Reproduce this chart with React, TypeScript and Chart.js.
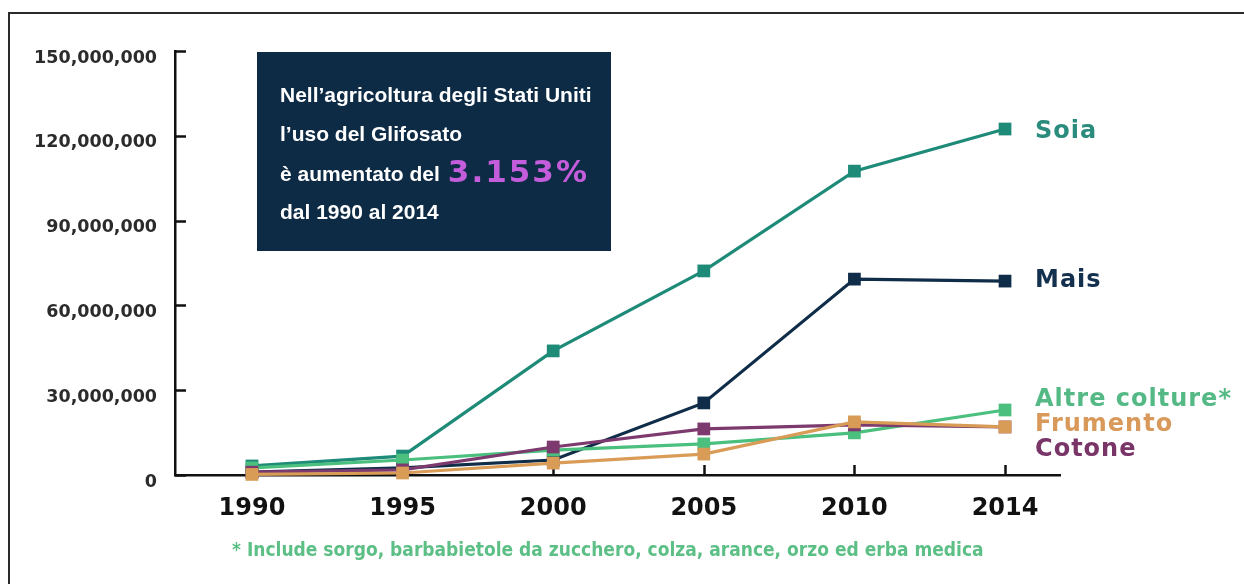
import React, { useEffect, useRef } from "react";
import { Chart, registerables } from "chart.js";

Chart.register(...registerables);

const years = ["1990", "1995", "2000", "2005", "2010", "2014"];
const seriesNames = ["Frumento", "Cotone", "Altre colture*", "Mais", "Soia"];
const frumento = [0.2e6, 0.7e6, 4.2e6, 7.4e6, 18.8e6, 17.0e6];
const cotone = [1.0e6, 1.8e6, 9.9e6, 16.3e6, 17.7e6, 17.0e6];
const altre = [2.5e6, 5.3e6, 8.8e6, 11.0e6, 14.9e6, 23.0e6];
const mais = [1.0e6, 2.5e6, 5.3e6, 25.5e6, 69.3e6, 68.6e6];
const soia = [3.2e6, 6.7e6, 43.9e6, 72.2e6, 107.5e6, 122.4e6];
const yTicks = [0, 30e6, 60e6, 90e6, 120e6, 150e6];
// label anchor values (data units) for the end-of-line names
const labelValues = [17.6e6, 8.8e6, 26.5e6, 68.6e6, 121.5e6];

const lineColors = ["#d99c57", "#7d3a6e", "#4bbf7d", "#0f2c48", "#1e8a78"];
const labelColors = ["#d8995a", "#793468", "#55b986", "#13304f", "#2a8c7c"];

const boxLines = [
  "Nell\u2019agricoltura degli Stati Uniti",
  "l\u2019uso del Glifosato",
  "\u00e8 aumentato del",
  "dal 1990 al 2014",
];
const highlight = "3.153%";
const footnote =
  "* Include sorgo, barbabietole da zucchero, colza, arance, orzo ed erba medica";

const decorPlugin = {
  id: "decor",
  beforeDraw(chart: any) {
    const ctx = chart.ctx;
    ctx.save();
    ctx.fillStyle = "#ffffff";
    ctx.fillRect(0, 0, chart.width, chart.height);
    ctx.strokeStyle = "#2a2a2a";
    ctx.lineWidth = 2;
    ctx.strokeRect(9, 13, chart.width + 20, chart.height + 20);
    ctx.restore();
  },
  beforeDatasetsDraw(chart: any) {
    const ctx = chart.ctx;
    const xs = chart.scales.x;
    const ys = chart.scales.y;
    const area = chart.chartArea;
    ctx.save();
    ctx.strokeStyle = "#111111";
    ctx.lineWidth = 2.5;
    yTicks.forEach((v) => {
      const y = Math.round(ys.getPixelForValue(v)) + 0.5;
      ctx.beginPath();
      ctx.moveTo(area.left, y);
      ctx.lineTo(area.left + 11, y);
      ctx.stroke();
    });
    years.forEach((_, i) => {
      const x = Math.round(xs.getPixelForValue(i)) + 0.5;
      ctx.beginPath();
      ctx.moveTo(x, area.bottom);
      ctx.lineTo(x, area.bottom - 10);
      ctx.stroke();
    });
    ctx.restore();
  },
  afterDraw(chart: any) {
    const ctx = chart.ctx;
    const xs = chart.scales.x;
    const ys = chart.scales.y;
    ctx.save();
    // series names
    ctx.textBaseline = "middle";
    ctx.textAlign = "left";
    ctx.font = "bold 24px 'DejaVu Sans', sans-serif";
    (ctx as any).letterSpacing = "1px";
    const lx = xs.getPixelForValue(years.length - 1) + 30;
    seriesNames.forEach((n, i) => {
      ctx.fillStyle = labelColors[i];
      ctx.fillText(n, lx, ys.getPixelForValue(labelValues[i]));
    });
    (ctx as any).letterSpacing = "0px";

    // info box
    ctx.fillStyle = "#0d2b45";
    ctx.fillRect(257, 52, 354, 199);
    ctx.fillStyle = "#ffffff";
    ctx.font = "bold 21px 'Liberation Sans', Arial, sans-serif";
    const ys4 = [96, 135, 175, 213];
    boxLines.forEach((t, i) => {
      ctx.fillText(t, 280, ys4[i]);
    });
    const w = ctx.measureText(boxLines[2]).width;
    ctx.fillStyle = "#c45ddb";
    ctx.font = "bold 31px 'DejaVu Sans', sans-serif";
    (ctx as any).letterSpacing = "2px";
    ctx.fillText(highlight, 280 + w + 8, 174);
    (ctx as any).letterSpacing = "0px";

    // footnote
    ctx.fillStyle = "#5cbf85";
    ctx.font = "bold 19px 'DejaVu Sans Condensed', 'Liberation Sans Narrow', 'DejaVu Sans', sans-serif";
    ctx.fillText(footnote, 232, 551, 753);
    ctx.restore();
  },
};

export default function App() {
  const ref = useRef<HTMLCanvasElement | null>(null);

  useEffect(() => {
    if (!ref.current) return;
    const series = [frumento, cotone, altre, mais, soia];
    const chart = new Chart(ref.current, {
      type: "line",
      data: {
        datasets: series.map((s, i) => ({
          label: seriesNames[i],
          data: s.map((v, j) => ({ x: j, y: v })),
          borderColor: lineColors[i],
          backgroundColor: lineColors[i],
          borderWidth: 3.2,
          pointStyle: "rect",
          pointRadius: 9,
          pointBorderWidth: 0,
          tension: 0,
          clip: false as any,
        })),
      },
      options: {
        responsive: false,
        animation: false,
        devicePixelRatio: 1,
        layout: { padding: { top: 51, right: 184, left: 0, bottom: 0 } },
        plugins: { legend: { display: false }, tooltip: { enabled: false } },
        scales: {
          x: {
            type: "linear",
            min: -0.511,
            max: 5.365,
            grid: { display: false, drawTicks: false },
            border: { display: true, color: "#111111", width: 2.5 },
            afterBuildTicks: (s: any) => {
              s.ticks = years.map((_, i) => ({ value: i }));
            },
            afterFit: (s: any) => {
              s.height = 109;
            },
            ticks: {
              padding: 19,
              color: "#111111",
              font: { family: "'DejaVu Sans', sans-serif", size: 24, weight: "bold" },
              callback: (v: any) => years[v] ?? "",
              maxRotation: 0,
            },
          },
          y: {
            type: "linear",
            min: 0,
            max: 150e6,
            grid: { display: false, drawTicks: false },
            border: { display: true, color: "#111111", width: 2.5 },
            afterBuildTicks: (s: any) => {
              s.ticks = yTicks.map((v) => ({ value: v }));
            },
            afterFit: (s: any) => {
              s.width = 175;
            },
            ticks: {
              padding: 18,
              labelOffset: 7,
              color: "#2b2b2b",
              font: { family: "'DejaVu Sans', sans-serif", size: 17.5, weight: "bold" },
              callback: (v: any) => Number(v).toLocaleString("en-US"),
            },
          },
        },
      },
      plugins: [decorPlugin],
    });
    return () => chart.destroy();
  }, []);

  return (
    <div style={{ position: "fixed", left: 0, top: 0, width: 1244, height: 584, background: "#fff" }}>
      <canvas ref={ref} width={1244} height={584} style={{ width: 1244, height: 584, display: "block" }} />
    </div>
  );
}
